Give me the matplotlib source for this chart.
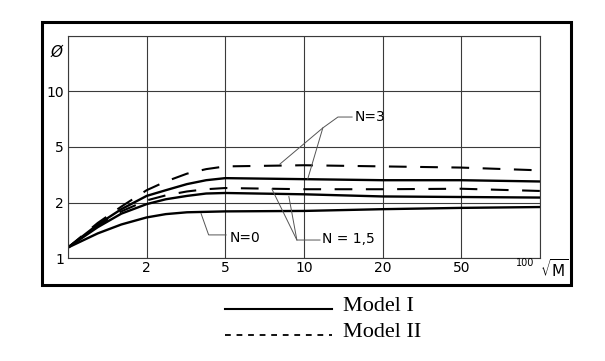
import numpy as np
import matplotlib
matplotlib.use('Agg')
import matplotlib.pyplot as plt
from matplotlib.lines import Line2D
from matplotlib.patches import Rectangle

# sqrt(M) sample points
sqrt_m = [1, 1.3, 1.6, 2, 2.5, 3.2, 4, 5, 10, 20, 50, 100]

# phi values, Model I (solid) and Model II (dashed)
phi_n0 = [1.14, 1.36, 1.52, 1.66, 1.73, 1.77, 1.78, 1.79, 1.80, 1.84, 1.87, 1.89]
phi_n15_m1 = [1.14, 1.47, 1.74, 1.96, 2.11, 2.23, 2.32, 2.34, 2.29, 2.21, 2.19, 2.17]
phi_n15_m2 = [1.14, 1.50, 1.79, 2.07, 2.25, 2.40, 2.49, 2.54, 2.49, 2.49, 2.51, 2.42]
phi_n3_m1 = [1.14, 1.52, 1.84, 2.23, 2.45, 2.71, 2.89, 2.99, 2.94, 2.89, 2.89, 2.83]
phi_n3_m2 = [1.14, 1.55, 1.90, 2.45, 2.83, 3.22, 3.47, 3.63, 3.70, 3.63, 3.56, 3.40]

x_ticks = [1, 2, 5, 10, 20, 50, 100]
x_labels = ['', '2', '5', '10', '20', '50', '']
y_ticks = [1, 2, 5, 10, 20]
y_labels = ['1', '2', '5', '10', '']


def one_two_five(ticks):
    # the paper spaces 1-2-5 steps evenly
    lt = np.log10(ticks)
    idx = np.arange(len(ticks))

    def fwd(v):
        v = np.asarray(v, dtype=float)
        return np.interp(np.log10(np.clip(v, 1e-9, None)), lt, idx)

    def inv(i):
        return 10 ** np.interp(i, idx, lt)
    return fwd, inv


fig = plt.figure(figsize=(6.05, 3.61), dpi=100)
ax = fig.add_axes([0.1124, 0.2853, 0.780, 0.615])
ax.set_xscale('function', functions=one_two_five(x_ticks))
ax.set_yscale('function', functions=one_two_five(y_ticks))
ax.set_xlim(1, 100)
ax.set_ylim(1, 20)

solid = dict(color='black', lw=1.7)
dashed = dict(color='black', lw=1.5, ls=(0, (8.5, 6.5)))
ax.plot(sqrt_m, phi_n0, **solid)
ax.plot(sqrt_m, phi_n15_m1, **solid)
ax.plot(sqrt_m, phi_n3_m1, **solid)
ax.plot(sqrt_m, phi_n15_m2, **dashed)
ax.plot(sqrt_m, phi_n3_m2, **dashed)

ax.set_xticks(x_ticks)
ax.set_xticklabels(x_labels)
ax.set_yticks(y_ticks)
ax.set_yticklabels(y_labels)
ax.minorticks_off()
ax.tick_params(length=0, labelsize=10)
ax.tick_params(axis='y', pad=3)
ax.tick_params(axis='x', pad=2)
ax.grid(True, color='#3a3a3a', lw=0.8)
for s in ax.spines.values():
    s.set_color('#3a3a3a')
    s.set_linewidth(0.8)

ax.text(-0.025, 0.929, 'Ø', transform=ax.transAxes, ha='center', va='center',
        fontsize=11, style='italic')
ax.text(0.968, -0.023, '100', transform=ax.transAxes, ha='center', va='center', fontsize=7)
ax.text(1.03, -0.05, r'$\sqrt{\mathrm{M}}$', transform=ax.transAxes, ha='center',
        va='center', fontsize=11)

# leader lines to the curve labels
lead = dict(color='#555555', lw=0.7, transform=ax.transAxes, clip_on=False)
ax.plot([0.602, 0.572, 0.540, 0.449], [0.635, 0.635, 0.586, 0.423], **lead)
ax.plot([0.540, 0.508], [0.586, 0.356], **lead)
ax.text(0.608, 0.635, 'N=3', transform=ax.transAxes, va='center', fontsize=10)

ax.plot([0.534, 0.485, 0.432], [0.081, 0.081, 0.311], **lead)
ax.plot([0.485, 0.468], [0.081, 0.277], **lead)
ax.text(0.538, 0.086, 'N = 1,5', transform=ax.transAxes, va='center', fontsize=10)

ax.plot([0.282, 0.298, 0.335], [0.200, 0.104, 0.104], **lead)
ax.text(0.343, 0.092, 'N=0', transform=ax.transAxes, va='center', fontsize=10)

# heavy frame round the plot
fig.add_artist(Rectangle((0.069, 0.2105), 0.8755, 0.7295, transform=fig.transFigure,
                         fill=False, ec='black', lw=2.2))

# legend under the frame
fig.add_artist(Line2D([0.372, 0.549], [0.144, 0.144], color='black', lw=1.5))
fig.add_artist(Line2D([0.372, 0.549], [0.072, 0.072], color='black', lw=1.3, ls=(0, (3.2, 3.2))))
fig.text(0.567, 0.152, 'Model I', family='Liberation Serif', fontsize=16, va='center')
fig.text(0.567, 0.079, 'Model II', family='Liberation Serif', fontsize=16, va='center')

fig.savefig('out.png', dpi=100)
